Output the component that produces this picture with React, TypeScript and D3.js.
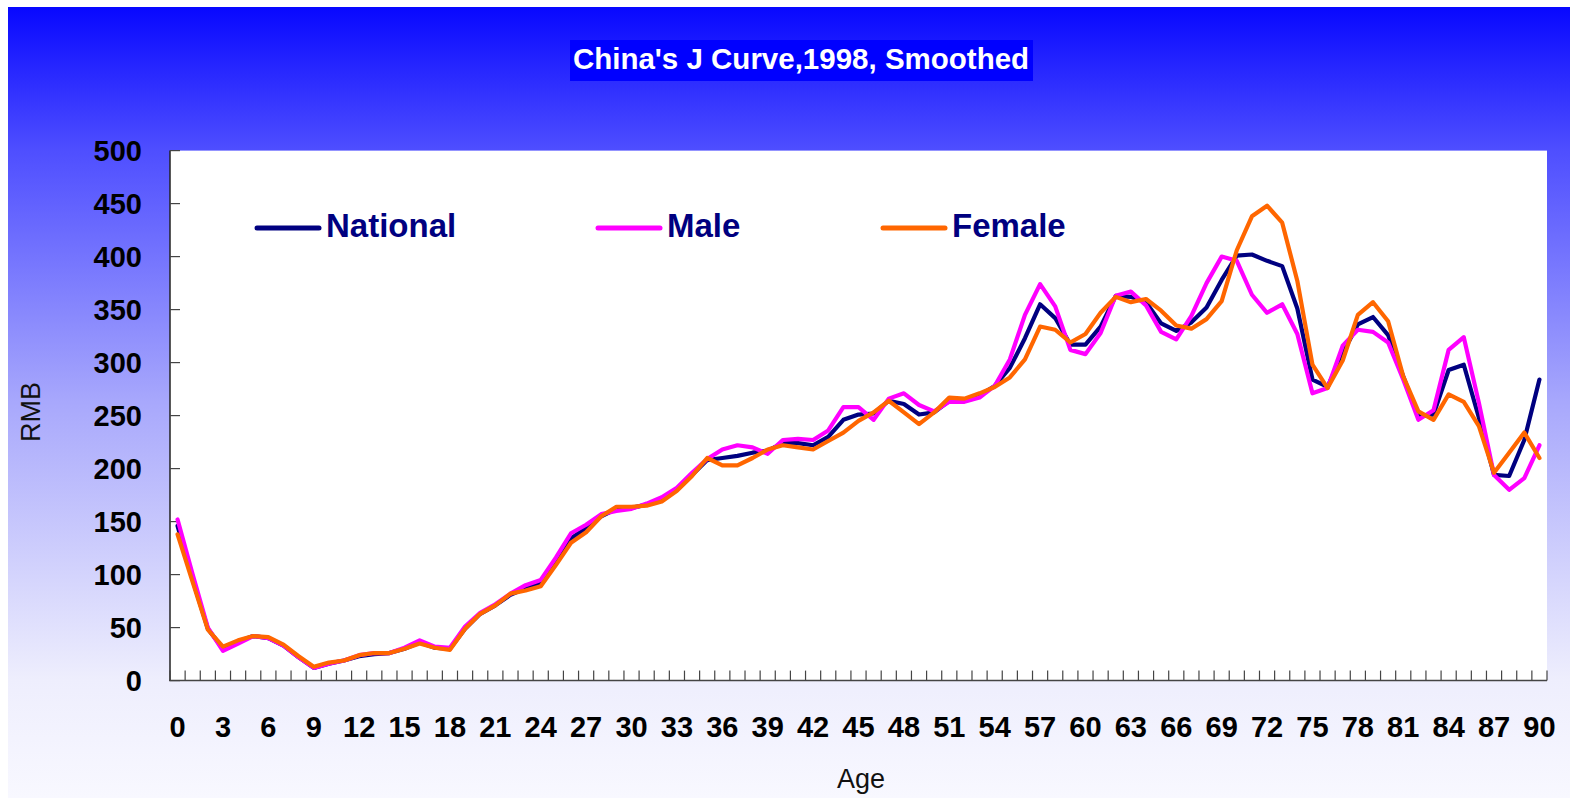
import React from "react";
import * as d3 from "d3";

const ages: number[] = d3.range(0, 91);
const tickAges: number[] = d3.range(0, 91, 3);
const yTicks: number[] = [0, 50, 100, 150, 200, 250, 300, 350, 400, 450, 500];

const national: number[] = [
  146, 95, 49, 30, 37, 42, 40, 33, 22, 12,
  16, 19, 23, 25, 26, 30, 36, 31, 30, 49,
  63, 71, 81, 87, 92, 112, 134, 144, 155, 162,
  163, 166, 171, 180, 194, 208, 210, 212, 215, 217,
  224, 224, 222, 230, 246, 251, 252, 264, 261, 251,
  253, 264, 264, 269, 278, 295, 323, 355, 342, 317,
  317, 334, 363, 362, 357, 337, 330, 338, 352, 378,
  401, 402, 396, 391, 351, 284, 277, 309, 336, 343,
  326, 287, 249, 251, 293, 298, 248, 194, 193, 227,
  284,
];

const male: number[] = [
  152, 100, 50, 28, 35, 42, 40, 33, 22, 12,
  16, 19, 24, 26, 26, 31, 38, 32, 31, 51,
  64, 72, 82, 90, 95, 116, 139, 147, 157, 160,
  162, 167, 173, 182, 196, 209, 218, 222, 220, 214,
  227, 228, 227, 236, 258, 258, 246, 266, 271, 260,
  254, 263, 263, 267, 278, 303, 345, 374, 353, 312,
  308, 328, 363, 367, 354, 329, 322, 344, 375, 400,
  396, 364, 347, 355, 327, 271, 276, 316, 331, 329,
  319, 284, 246, 255, 312, 324, 262, 194, 180, 191,
  222,
];

const female: number[] = [
  138, 93, 48, 32, 38, 42, 41, 34, 23, 13,
  17, 19, 24, 26, 26, 30, 35, 31, 29, 49,
  63, 71, 82, 85, 89, 109, 130, 140, 155, 164,
  164, 165, 169, 179, 193, 210, 203, 203, 210, 218,
  222, 220, 218, 226, 234, 245, 253, 264, 253, 242,
  253, 267, 266, 271, 277, 286, 303, 334, 331, 319,
  327, 347, 362, 357, 360, 349, 335, 332, 341, 358,
  406, 438, 448, 432, 377, 298, 276, 302, 345, 357,
  339, 287, 254, 246, 270, 263, 240, 196, 215, 234,
  210,
];

const seriesNames: string[] = ["National", "Male", "Female"];
const seriesColors: string[] = ["#000080", "#FF00FF", "#FF6600"];
const seriesData: number[][] = [national, male, female];

const W = 1574;
const H = 798;
const plotL = 170;
const plotR = 1547;
const plotT = 150.6;
const plotB = 680.6;

export default function App() {
  const x = d3
    .scalePoint<number>()
    .domain(ages)
    .range([plotL, plotR])
    .padding(0.5);
  const step = x.step();
  const y = d3.scaleLinear().domain([0, 500]).range([plotB, plotT]);

  const line = (vals: number[]) =>
    d3
      .line<number>()
      .x((_, i) => x(ages[i]) as number)
      .y((d) => y(d))(vals) as string;

  const boundaries = d3.range(0, ages.length + 1).map((i) => plotL + i * step);

  const legendItems = [
    { x1: 257, x2: 319, tx: 326 },
    { x1: 598, x2: 660, tx: 667 },
    { x1: 883, x2: 945, tx: 952 },
  ];

  const bold = "'Liberation Sans', Arial, sans-serif";

  return (
    <svg
      width={W}
      height={H}
      style={{ position: "absolute", left: 0, top: 0, display: "block" }}
    >
      <defs>
        <linearGradient id="bg" x1="0" y1="0" x2="0" y2="1">
          <stop offset="0%" stopColor="rgb(8,8,255)" />
          <stop offset="18%" stopColor="rgb(78,78,255)" />
          <stop offset="50%" stopColor="rgb(168,168,252)" />
          <stop offset="85%" stopColor="rgb(238,238,253)" />
          <stop offset="100%" stopColor="rgb(248,248,255)" />
        </linearGradient>
      </defs>
      <rect x={0} y={0} width={W} height={H} fill="#ffffff" />
      <rect x={8} y={7} width={1562} height={H - 7} fill="url(#bg)" />

      {/* title */}
      <rect x={570} y={40} width={463} height={41} fill="#0000FF" />
      <text
        x={801}
        y={69}
        textAnchor="middle"
        fontFamily={bold}
        fontWeight="bold"
        fontSize={29.5}
        fill="#ffffff"
      >
        China's J Curve,1998, Smoothed
      </text>

      {/* plot area */}
      <rect x={plotL} y={plotT} width={plotR - plotL} height={plotB - plotT} fill="#ffffff" />

      {/* y axis */}
      <line x1={plotL} y1={plotT} x2={plotL} y2={plotB} stroke="#222" strokeWidth={1.5} />
      {yTicks.map((t) => (
        <g key={"y" + t}>
          <line x1={plotL} x2={plotL + 10} y1={y(t)} y2={y(t)} stroke="#444" strokeWidth={1.2} />
          <text
            x={142}
            y={y(t)}
            textAnchor="end"
            dominantBaseline="central"
            fontFamily={bold}
            fontWeight="bold"
            fontSize={29}
            fill="#000"
          >
            {t}
          </text>
        </g>
      ))}

      {/* x axis */}
      <line x1={plotL - 1} y1={plotB} x2={plotR} y2={plotB} stroke="#444" strokeWidth={1.5} />
      {boundaries.map((bx, i) => (
        <line key={"xt" + i} x1={bx} x2={bx} y1={plotB} y2={plotB - 10} stroke="#444" strokeWidth={1.2} />
      ))}
      {tickAges.map((a) => (
        <text
          key={"xl" + a}
          x={x(a) as number}
          y={727}
          textAnchor="middle"
          dominantBaseline="central"
          fontFamily={bold}
          fontWeight="bold"
          fontSize={29}
          fill="#000"
        >
          {a}
        </text>
      ))}

      {/* axis titles */}
      <text
        x={861}
        y={779}
        textAnchor="middle"
        dominantBaseline="central"
        fontFamily={bold}
        fontSize={27}
        fill="#111"
      >
        Age
      </text>
      <text
        transform="translate(31,412) rotate(-90)"
        textAnchor="middle"
        dominantBaseline="central"
        fontFamily={bold}
        fontSize={27}
        fill="#111"
      >
        RMB
      </text>

      {/* series */}
      {seriesData.map((vals, k) => (
        <path
          key={seriesNames[k]}
          d={line(vals)}
          fill="none"
          stroke={seriesColors[k]}
          strokeWidth={4.2}
          strokeLinejoin="round"
          strokeLinecap="round"
        />
      ))}

      {/* legend */}
      {seriesNames.map((name, k) => (
        <g key={"lg" + name}>
          <line
            x1={legendItems[k].x1}
            x2={legendItems[k].x2}
            y1={228}
            y2={228}
            stroke={seriesColors[k]}
            strokeWidth={5}
            strokeLinecap="round"
          />
          <text
            x={legendItems[k].tx}
            y={237}
            fontFamily={bold}
            fontWeight="bold"
            fontSize={33}
            fill="#000080"
          >
            {name}
          </text>
        </g>
      ))}
    </svg>
  );
}
